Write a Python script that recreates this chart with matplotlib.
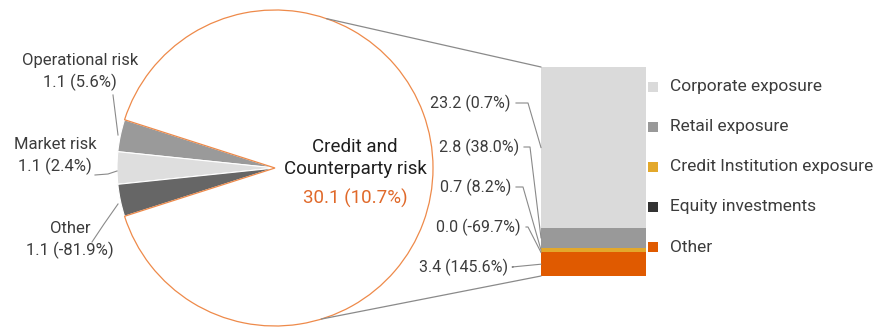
import numpy as np
import matplotlib
matplotlib.use("Agg")
import matplotlib.pyplot as plt
from matplotlib.patches import ConnectionPatch

# Capital requirements by risk type (pie) and credit risk breakdown (bar)
risk_labels = ["Operational risk", "Market risk", "Other", "Credit and\nCounterparty risk"]
risk_values = [1.1, 1.1, 1.1, 30.1]
risk_changes = ["5.6%", "2.4%", "-81.9%", "10.7%"]
risk_colors = ["#9a9a9a", "#dedede", "#666666", "#ffffff"]

credit_labels = ["Corporate exposure", "Retail exposure", "Credit Institution exposure",
                 "Equity investments", "Other"]
credit_values = [23.2, 2.8, 0.7, 0.0, 3.4]
credit_changes = ["0.7%", "38.0%", "8.2%", "-69.7%", "145.6%"]
credit_colors = ["#dadada", "#999999", "#e3a82b", "#333333", "#e05a00"]

TEXT = "#3c3c3c"
ORANGE = "#e0692a"
EDGE = "#ee8a4a"
LINE = "#8a8a8a"
FS = 12

plt.rcParams["font.family"] = ["Roboto", "DejaVu Sans"]

W, H = 886, 329
fig = plt.figure(figsize=(W / 100, H / 100), dpi=100)


def px_axes(left, top, width, height):
    return fig.add_axes([left / W, 1 - (top + height) / H, width / W, height / H])


# pie
cx, cy, r = 275, 168, 158
pax = px_axes(cx - r, cy - r, 2 * r, 2 * r)
small = sum(risk_values[:3])
start = 180 - small / sum(risk_values) * 360 / 2
wedges, _ = pax.pie(risk_values, colors=risk_colors, startangle=start, radius=1,
                    wedgeprops=dict(edgecolor="white", linewidth=0.8))
wedges[3].set_edgecolor(EDGE)
wedges[3].set_linewidth(0.9)
wedges[3].set_zorder(3)
wedges[3].set_facecolor("none")
pax.set_xlim(-1, 1)
pax.set_ylim(-1, 1)
pax.set_aspect("equal")
pax.axis("off")

# stacked bar, Other at the bottom
bx, btop, bw, bh = 541, 67, 105, 209
bax = px_axes(bx, btop, bw, bh)
bottoms = np.cumsum([0] + credit_values[::-1][:-1])[::-1]
for v, b, c in zip(credit_values, bottoms, credit_colors):
    bax.bar(0, v, bottom=b, width=1, color=c, linewidth=0)
total = sum(credit_values)
bax.set_xlim(-0.5, 0.5)
bax.set_ylim(0, total)
bax.axis("off")

# lines from pie to bar
for ang, yb in [(71, total), (-73, 0)]:
    t = np.deg2rad(ang)
    con = ConnectionPatch(xyA=(np.cos(t), np.sin(t)), coordsA=pax.transData,
                          xyB=(-0.5, yb), coordsB=bax.transData,
                          color=LINE, linewidth=0.9)
    fig.add_artist(con)

# overlay in pixel coordinates for labels and leader lines
ov = fig.add_axes([0, 0, 1, 1], zorder=5)
ov.set_xlim(0, W)
ov.set_ylim(H, 0)
ov.axis("off")
ov.patch.set_alpha(0)


def to_px(ax, x, y):
    dx, dy = ax.transData.transform((x, y))
    return dx, H - dy


# pie labels
pie_text = [(80, 72), (55, 156), (70, 240)]
pie_leads = [[(113, 95), (118, 135)], [(95, 175), (108, 174), (117, 171)],
             [(92, 242), (104, 224), (118, 204)]]
for i in range(3):
    x, y = pie_text[i]
    ov.text(x, y, f"{risk_labels[i]}\n{risk_values[i]:.1f} ({risk_changes[i]})",
            ha="center", va="center", fontsize=FS, color=TEXT, linespacing=1.4)
    xs, ys = zip(*pie_leads[i])
    ov.plot(xs, ys, color=LINE, linewidth=0.8)

ov.text(355, 158, risk_labels[3], ha="center", va="center", fontsize=FS + 1.5,
        color="#1e1e1e", linespacing=1.35)
ov.text(355, 198, f"{risk_values[3]:.1f} ({risk_changes[3]})", ha="center",
        va="center", fontsize=FS + 1.5, color=ORANGE)

# bar value labels with leader lines
label_y = [103, 147, 187, 227, 267]
label_x = [511, 519, 511, 521, 508]
stub = [528, 530, 523, 528, 512]
for i, v in enumerate(credit_values):
    mid = bottoms[i] + v / 2
    tx, ty = to_px(bax, -0.5, mid)
    ov.text(label_x[i], label_y[i], f"{v:.1f} ({credit_changes[i]})", ha="right",
            va="center", fontsize=FS - 0.5, color=TEXT)
    ov.plot([label_x[i] + 5, stub[i], tx], [label_y[i], label_y[i], ty],
            color=LINE, linewidth=0.8)

# legend
for i, (lab, c) in enumerate(zip(credit_labels, credit_colors)):
    y = 87 + i * 40
    ov.scatter(653, y, marker="s", s=42, color=c, linewidth=0)
    ov.text(670, y, lab, ha="left", va="center", fontsize=FS + 0.5, color=TEXT)

fig.savefig("out.png", dpi=100, facecolor="white")
